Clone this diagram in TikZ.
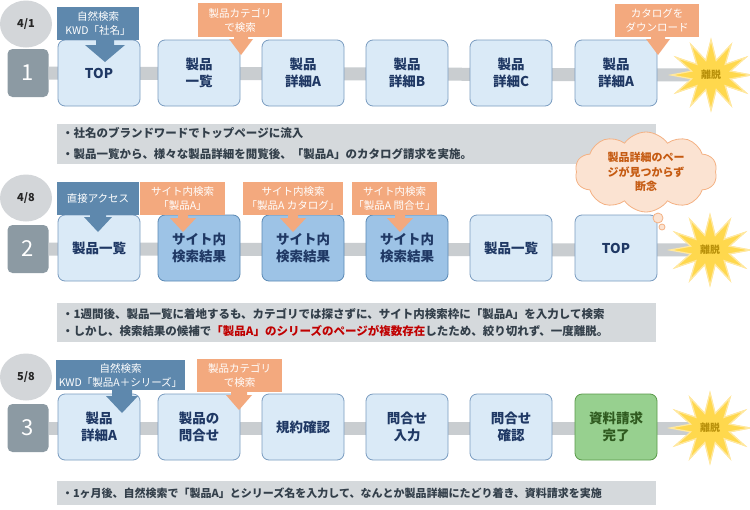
\documentclass[tikz,border=0pt]{standalone}
\usepackage{fontspec}
\setmainfont{Noto Sans CJK JP}
\usetikzlibrary{shapes.symbols,shapes.geometric}
\definecolor{nodefill}{HTML}{DAEAF7}
\definecolor{nodedraw}{HTML}{7A9CC0}
\definecolor{navy}{HTML}{1F3864}
\definecolor{srfill}{HTML}{9DC3E6}
\definecolor{srdraw}{HTML}{5B89B5}
\definecolor{grnfill}{HTML}{97D08F}
\definecolor{grndraw}{HTML}{5A9A4A}
\definecolor{grntext}{HTML}{2F5A1F}
\definecolor{datefill}{HTML}{D3D6D9}
\definecolor{numfill}{HTML}{8C9AA3}
\definecolor{barcol}{HTML}{C9CDD0}
\definecolor{bluecall}{HTML}{5E88AD}
\definecolor{orcall}{HTML}{F3A97E}
\definecolor{burstfill}{HTML}{FFD84D}
\definecolor{burstdraw}{HTML}{FFE8A0}
\definecolor{bursttext}{HTML}{B8900A}
\definecolor{boxfill}{HTML}{D5D9DC}
\definecolor{boxtext}{HTML}{333F4A}
\definecolor{cloudfill}{HTML}{FBE3D2}
\definecolor{clouddraw}{HTML}{F4B183}
\definecolor{cloudtext}{HTML}{C55A11}
\definecolor{redtext}{HTML}{C00000}
\newcommand\carrow[7]{\fill[#1] ({#2-#5},#4) -- ({#2-#5},{#3-#7}) -- ({#2-#6},{#3-#7}) -- (#2,#3) -- ({#2+#6},{#3-#7}) -- ({#2+#5},{#3-#7}) -- ({#2+#5},#4) -- cycle;}
\tikzset{
  page/.style={rectangle, rounded corners=7pt, draw=nodedraw, line width=0.8pt, fill=nodefill,
    minimum width=82pt, minimum height=66pt, align=center, text=navy, inner sep=0pt,
    font=\bfseries\fontsize{13.5}{17}\selectfont},
  srpage/.style={page, fill=srfill, draw=srdraw},
  donepage/.style={page, fill=grnfill, draw=grndraw, text=grntext},
  datecirc/.style={ellipse, fill=datefill, minimum width=52pt, minimum height=47pt, inner sep=0pt,
    font=\bfseries\fontsize{11}{13}\selectfont, text=black!85},
  numbox/.style={rectangle, rounded corners=5pt, fill=numfill, minimum width=41pt, minimum height=48pt,
    text=white, inner sep=0pt, font=\fontsize{22}{26}\selectfont},
  callb/.style={rectangle, fill=bluecall, text=white, align=center, inner sep=0pt,
    font=\fontsize{10.5}{14}\selectfont},
  callo/.style={callb, fill=orcall},
  burst/.style={starburst, starburst points=12, starburst point height=20pt, random starburst=0,
    fill=burstfill, draw=burstdraw, line width=1.2pt, minimum width=80pt, minimum height=70pt,
    text=bursttext, inner sep=0pt, font=\bfseries\fontsize{10}{12}\selectfont},
  notebox/.style={rectangle, fill=boxfill, text width=589pt, inner xsep=5pt, inner ysep=0pt,
    align=left, text=boxtext, font=\bfseries\fontsize{11.5}{17}\selectfont},
  bar/.style={line width=13pt, barcol}
}
\begin{document}
\begin{tikzpicture}[x=1pt,y=-1pt]
\useasboundingbox (0,0) rectangle (750,509);
\fill[white] (0,0) rectangle (750,509);
% ---------- Row 1 ----------
\node[datecirc] (d1) at (26,24) {4/1};
\node[numbox] (n1) at (28,73) {1};
\node[burst] (x1) at (711,75) {離脱};
\draw[bar] (n1.east) -- (x1.center);
\node[burst] (x1b) at (711,75) {離脱};
\node[page] (p11) at (99,73) {TOP};
\node[page] (p12) at (199,73) {製品\\一覧};
\node[page] (p13) at (303,73) {製品\\詳細A};
\node[page] (p14) at (407,73) {製品\\詳細B};
\node[page] (p15) at (511,73) {製品\\詳細C};
\node[page] (p16) at (616,73) {製品\\詳細A};
\node[callb, minimum width=82pt, minimum height=33pt] (c11) at (98,23.5) {自然検索\\KWD「社名」};
\carrow{bluecall}{105}{62}{39}{9}{20}{17}
\node[callo, minimum width=84pt, minimum height=34pt] (c12) at (240,20) {製品カテゴリ\\で検索};
\carrow{orcall}{241}{55}{36}{7}{12}{16}
\node[callo, minimum width=84pt, minimum height=33pt] (c13) at (657,20.5) {カタログを\\ダウンロード};
\carrow{orcall}{658}{55}{36}{7}{12}{16}
\node[notebox, minimum height=40pt, font=\bfseries\fontsize{11.5}{21}\selectfont] (t1) at (356.5,144)
  {・社名のブランドワードでトップページに流入\\・製品一覧から、様々な製品詳細を閲覧後、「製品A」のカタログ請求を実施。};
% ---------- Row 2 ----------
\node[datecirc] (d2) at (26,198) {4/8};
\node[numbox] (n2) at (28,249) {2};
\node[burst] (x2) at (710,250) {離脱};
\draw[bar] (n2.east) -- (x2.center);
\node[burst] (x2b) at (710,250) {離脱};
\node[page] (p21) at (99,248) {製品一覧};
\node[srpage] (p22) at (199,248) {サイト内\\検索結果};
\node[srpage] (p23) at (303,248) {サイト内\\検索結果};
\node[srpage] (p24) at (407,248) {サイト内\\検索結果};
\node[page] (p25) at (511,248) {製品一覧};
\node[page] (p26) at (616,248) {TOP};
\node[callb, minimum width=82pt, minimum height=33pt] (c21) at (98,198.5) {直接アクセス};
\carrow{bluecall}{98}{232}{214}{8}{14}{15}
\node[callo, minimum width=85pt, minimum height=33pt] (c22) at (182.5,198.5) {サイト内検索\\「製品A」};
\carrow{orcall}{183}{232}{214}{5}{13}{14}
\node[callo, minimum width=100pt, minimum height=33pt] (c23) at (293,198.5) {サイト内検索\\「製品A カタログ」};
\carrow{orcall}{293}{232}{214}{5}{13}{14}
\node[callo, minimum width=85pt, minimum height=33pt] (c24) at (394.5,198.5) {サイト内検索\\「製品A 問合せ」};
\carrow{orcall}{400}{232}{214}{5}{13}{14}
\node[cloud, cloud puffs=10, cloud puff arc=110, cloud ignores aspect, minimum width=142pt, minimum height=80pt,
  fill=cloudfill, draw=clouddraw, line width=0.8pt, align=center, text=cloudtext, inner sep=0pt,
  font=\bfseries\fontsize{11}{14.5}\selectfont] (cl) at (646,172) {製品詳細のペー\\ジが見つからず\\断念};
\node[circle, fill=cloudfill, draw=clouddraw, line width=0.8pt, minimum size=10pt, inner sep=0pt] (b1) at (658,218) {};
\node[circle, fill=cloudfill, draw=clouddraw, line width=0.8pt, minimum size=6pt, inner sep=0pt] (b2) at (662,227) {};
\node[notebox, minimum height=39pt] (t2) at (356.5,322.5)
  {・1週間後、製品一覧に着地するも、カテゴリでは探さずに、サイト内検索枠に「製品A」を入力して検索\\・しかし、検索結果の候補で\textcolor{redtext}{「製品A」のシリーズのページが複数存在}したため、絞り切れず、一度離脱。};
% ---------- Row 3 ----------
\node[datecirc] (d3) at (26,377) {5/8};
\node[numbox] (n3) at (28,428) {3};
\node[burst] (x3) at (710,428) {離脱};
\draw[bar] (n3.east) -- (x3.center);
\node[burst] (x3b) at (710,428) {離脱};
\node[page] (p31) at (99,427) {製品\\詳細A};
\node[page] (p32) at (199,427) {製品の\\問合せ};
\node[page] (p33) at (303,427) {規約確認};
\node[page] (p34) at (407,427) {問合せ\\入力};
\node[page] (p35) at (511,427) {問合せ\\確認};
\node[donepage] (p36) at (616,427) {資料請求\\完了};
\node[callb, minimum width=129pt, minimum height=30pt] (c31) at (120.5,375) {自然検索\\KWD「製品A＋シリーズ」};
\carrow{bluecall}{122}{413}{389}{10}{16}{17}
\node[callo, minimum width=85pt, minimum height=33pt] (c32) at (239.5,375.5) {製品カテゴリ\\で検索};
\carrow{orcall}{239}{410}{391}{8}{13}{15}
\node[notebox, minimum height=24pt, font=\bfseries\fontsize{11}{14}\selectfont] (t3) at (356.5,493)
  {・1ヶ月後、自然検索で「製品A」とシリーズ名を入力して、なんとか製品詳細にたどり着き、資料請求を実施};
\end{tikzpicture}
\end{document}
